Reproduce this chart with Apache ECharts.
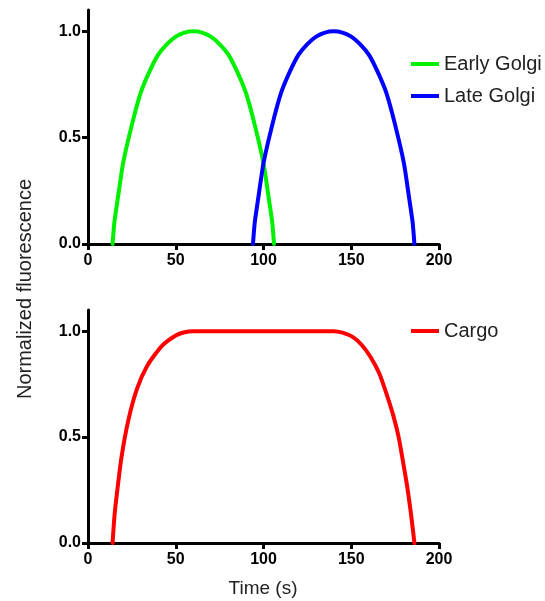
<!DOCTYPE html>
<html>
<head>
<meta charset="utf-8">
<script src="https://cdn.jsdelivr.net/npm/echarts@6/dist/echarts.min.js"></script>
<style>
  html, body { margin: 0; padding: 0; background: #fff; }
  #chart { width: 545px; height: 601px; }
</style>
</head>
<body>
<div id="chart"></div>
<script>
// values
var xTicks = [0, 50, 100, 150, 200];
var yTicks = [0, 0.5, 1.0];

var earlyTime = [14, 15, 17, 20, 25, 30, 35, 40, 45, 50, 55, 60, 65, 70, 75, 80, 85, 90, 95, 100, 103, 105, 106];
var earlyVal  = [0, 0.10, 0.215, 0.38, 0.56, 0.71, 0.81, 0.89, 0.94, 0.975, 0.994, 1, 0.994, 0.975, 0.94, 0.89, 0.81, 0.71, 0.56, 0.38, 0.215, 0.10, 0];

var lateTime = [94, 95, 97, 100, 105, 110, 115, 120, 125, 130, 135, 140, 145, 150, 155, 160, 165, 170, 175, 180, 183, 185, 186];
var lateVal  = [0, 0.10, 0.215, 0.38, 0.56, 0.71, 0.81, 0.89, 0.94, 0.975, 0.994, 1, 0.994, 0.975, 0.94, 0.89, 0.81, 0.71, 0.56, 0.38, 0.215, 0.10, 0];

var cargoTime = [14, 15, 16, 19, 23, 28, 34, 42, 50, 55, 60, 140, 145, 151, 156, 161, 166, 170, 174, 177, 180, 182, 184, 186];
var cargoVal  = [0, 0.12, 0.2, 0.4, 0.58, 0.73, 0.84, 0.93, 0.98, 0.995, 1, 1, 0.993, 0.972, 0.935, 0.878, 0.8, 0.706, 0.6, 0.5, 0.36, 0.26, 0.14, 0];

function pairs(t, v) {
  return t.map(function (x, i) { return [x, v[i]]; });
}

var FONT = "'Liberation Sans', Arial, Helvetica, sans-serif";

function xAxisFor(gridIndex) {
  return {
    type: 'value', gridIndex: gridIndex, min: 0, max: 200, interval: 50,
    axisLine: { lineStyle: { color: '#000', width: 3 } },
    axisTick: { show: true, length: 6, lineStyle: { color: '#000', width: 3 } },
    axisLabel: { color: '#000', fontWeight: 'bold', fontSize: 16, fontFamily: FONT, margin: 9 },
    splitLine: { show: false }
  };
}
function yAxisFor(gridIndex) {
  return {
    type: 'value', gridIndex: gridIndex, min: 0, max: 1.1,
    axisLine: { show: true, lineStyle: { color: '#000', width: 3 } },
    axisTick: { show: true, length: 6, lineStyle: { color: '#000', width: 3 }, customValues: yTicks },
    axisLabel: {
      color: '#000', fontWeight: 'bold', fontSize: 16, fontFamily: FONT, margin: 7,
      customValues: yTicks,
      formatter: function (v) { return v.toFixed(1); }
    },
    splitLine: { show: false }
  };
}
function lineSeries(name, color, idx, data) {
  return {
    name: name, type: 'line', xAxisIndex: idx, yAxisIndex: idx,
    data: data, symbol: 'none', smooth: 0.2,
    lineStyle: { color: color, width: 4, join: 'round', cap: 'round' }, itemStyle: { color: color },
    animation: false
  };
}
var legendText = { fontSize: 20, lineHeight: 20, color: '#222', fontFamily: FONT };

var chart = echarts.init(document.getElementById('chart'));
var option = {
  backgroundColor: '#fff',
  animation: false,
  grid: [
    { left: 88, right: 106, top: 10, bottom: 357 },
    { left: 88, right: 106, top: 310, bottom: 58 }
  ],
  xAxis: [xAxisFor(0), xAxisFor(1)],
  yAxis: [yAxisFor(0), yAxisFor(1)],
  legend: [
    {
      data: ['Early Golgi', 'Late Golgi'], orient: 'vertical', left: 406, top: 49,
      icon: 'rect', itemWidth: 28, itemHeight: 4, itemGap: 12,
      textStyle: legendText
    },
    {
      data: ['Cargo'], orient: 'vertical', left: 406, top: 316,
      icon: 'rect', itemWidth: 28, itemHeight: 4,
      textStyle: legendText
    }
  ],
  graphic: [
    {
      type: 'text', x: 25, y: 289, rotation: Math.PI / 2,
      style: { text: 'Normalized fluorescence', font: '20px ' + FONT, fill: '#222', align: 'center', verticalAlign: 'middle' }
    },
    {
      type: 'text', x: 263, y: 589,
      style: { text: 'Time (s)', font: '19px ' + FONT, fill: '#222', align: 'center', verticalAlign: 'middle' }
    }
  ],
  series: [
    lineSeries('Early Golgi', '#00f000', 0, pairs(earlyTime, earlyVal)),
    lineSeries('Late Golgi', '#0000ff', 0, pairs(lateTime, lateVal)),
    lineSeries('Cargo', '#ff0000', 1, pairs(cargoTime, cargoVal))
  ]
};
chart.setOption(option);
</script>
</body>
</html>
